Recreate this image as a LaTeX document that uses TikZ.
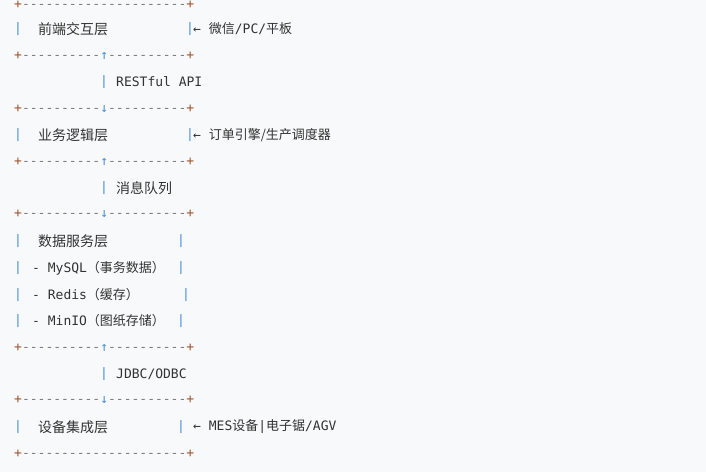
\documentclass[tikz,border=0pt]{standalone}
\usepackage{fontspec}
\setmonofont{DejaVu Sans Mono}
\newfontfamily\cjk{Noto Sans CJK SC}
\usepackage{xcolor}
\definecolor{bgGrey}{HTML}{F8F9FA}
\definecolor{plusRed}{HTML}{A0522D}
\definecolor{dashGrey}{HTML}{7A7A7A}
\definecolor{pipeBlue}{HTML}{4A8FD6}
\definecolor{textGrey}{HTML}{333333}
\newcommand{\pl}{\textcolor{plusRed}{+}}
\newcommand{\dsh}[1]{\textcolor{dashGrey}{\foreach \i in {1,...,#1}{-}}}
\newcommand{\arr}[1]{\textcolor{pipeBlue}{#1}}

\begin{document}
\begin{tikzpicture}[x=1pt,y=-1pt,
  row/.style={anchor=west, inner sep=0pt, font=\ttfamily\fontsize{13}{13}\selectfont, text=textGrey},
  cn/.style={anchor=west, inner sep=0pt, font=\cjk\fontsize{14}{14}\selectfont, text=textGrey},
  pipe/.style={anchor=center, inner sep=0pt, font=\ttfamily\fontsize{13}{13}\selectfont, text=pipeBlue}]
  \fill[bgGrey] (0,0) rectangle (706,472);
  \useasboundingbox (0,0) rectangle (706,472);

  % borders
  \node[row] (topLine) at (14,5) {\pl\dsh{21}\pl};
  \node[row] (bndA) at (14,56) {\pl\dsh{10}\arr{↑}\dsh{10}\pl};
  \node[row] (bndB) at (14,109) {\pl\dsh{10}\arr{↓}\dsh{10}\pl};
  \node[row] (bndC) at (14,162) {\pl\dsh{10}\arr{↑}\dsh{10}\pl};
  \node[row] (bndD) at (14,214) {\pl\dsh{10}\arr{↓}\dsh{10}\pl};
  \node[row] (bndE) at (14,348) {\pl\dsh{10}\arr{↑}\dsh{10}\pl};
  \node[row] (bndF) at (14,400) {\pl\dsh{10}\arr{↓}\dsh{10}\pl};
  \node[row] (botLine) at (14,454) {\pl\dsh{21}\pl};

  % layers
  \foreach \y/\r in {29/190,135/190,241/181,268/181,295/186,321/181,427/181}{
    \node[pipe] at (18,\y) {|};
    \node[pipe] at (\r,\y) {|};
  }
  \node[cn] (front) at (38,29) {前端交互层};
  \node[cn] (logic) at (38,135) {业务逻辑层};
  \node[cn] (data) at (38,241) {数据服务层};
  \node[row] (mysql) at (32,268) {- MySQL{\cjk（事务数据）}};
  \node[row] (redis) at (32,295) {- Redis{\cjk（缓存）}};
  \node[row] (minio) at (32,321) {- MinIO{\cjk（图纸存储）}};
  \node[cn] (device) at (38,427) {设备集成层};

  % sources
  \node[row] (srcA) at (193,29) {← {\cjk 微信}/PC/{\cjk 平板}};
  \node[row] (srcB) at (193,135) {← {\cjk 订单引擎/生产调度器}};
  \node[row] (srcC) at (193,427) {← MES{\cjk 设备}|{\cjk 电子锯}/AGV};

  % links
  \node[pipe] at (104,82) {|};
  \node[row] (rest) at (116,82) {RESTful API};
  \node[pipe] at (104,188) {|};
  \node[cn] (queue) at (116,188) {消息队列};
  \node[pipe] at (104,374) {|};
  \node[row] (jdbc) at (116,374) {JDBC/ODBC};
\end{tikzpicture}
\end{document}
